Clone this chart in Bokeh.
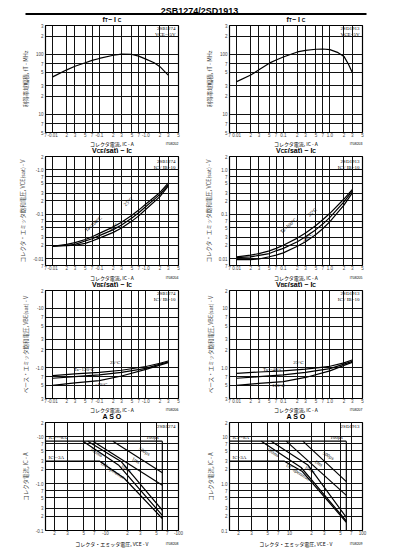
from bokeh.plotting import figure
from bokeh.models import Range1d, FixedTicker, Label, BoxAnnotation
from bokeh.layouts import column, row
from bokeh.embed import file_html
from bokeh.resources import INLINE

# ---------------- data ----------------
# fT - IC
ft_ic_b = [0.01, 0.02, 0.03, 0.05, 0.07, 0.1, 0.2, 0.3, 0.5, 0.7, 1.0, 1.5, 2.0, 3.0]
ft_b = [42, 55, 63, 72, 79, 85, 96, 100, 99, 93, 83, 72, 62, 45]
ft_ic_d = [0.01, 0.02, 0.03, 0.05, 0.07, 0.1, 0.2, 0.3, 0.5, 0.7, 1.0, 1.5, 2.0, 2.5, 3.0]
ft_d = [35, 45, 55, 71, 80, 90, 109, 116, 121, 122, 119, 106, 92, 68, 50]

# VCE(sat) - IC
vce_ic = [0.01, 0.02, 0.03, 0.05, 0.07, 0.1, 0.2, 0.3, 0.5, 0.7, 1.0, 2.0, 3.0]
vce_b_100 = [0.019, 0.021, 0.023, 0.027, 0.031, 0.037, 0.052, 0.066, 0.095, 0.124, 0.17, 0.31, 0.50]
vce_b_25 = [0.019, 0.020, 0.021, 0.025, 0.028, 0.033, 0.045, 0.057, 0.082, 0.108, 0.15, 0.28, 0.46]
vce_b_m40 = [0.019, 0.0195, 0.020, 0.022, 0.025, 0.029, 0.039, 0.049, 0.070, 0.092, 0.13, 0.25, 0.43]
vce_d_100 = [0.011, 0.012, 0.013, 0.015, 0.017, 0.020, 0.029, 0.038, 0.056, 0.075, 0.105, 0.22, 0.36]
vce_d_25 = [0.0105, 0.011, 0.0118, 0.013, 0.015, 0.017, 0.024, 0.031, 0.045, 0.060, 0.085, 0.19, 0.33]
vce_d_m40 = [0.0095, 0.0095, 0.0098, 0.011, 0.012, 0.0135, 0.019, 0.024, 0.035, 0.047, 0.068, 0.16, 0.30]

# VBE(sat) - IC
vbe_ic = [0.01, 0.03, 0.1, 0.3, 1.0, 2.0, 3.0]
vbe_b_top = [0.73, 0.78, 0.83, 0.90, 1.04, 1.18, 1.29]
vbe_b_mid = [0.66, 0.70, 0.75, 0.83, 0.97, 1.14, 1.24]
vbe_b_bot = [0.50, 0.55, 0.60, 0.72, 0.93, 1.10, 1.21]
vbe_d_top = [0.80, 0.84, 0.88, 0.94, 1.05, 1.20, 1.34]
vbe_d_mid = [0.66, 0.70, 0.75, 0.83, 0.96, 1.14, 1.27]
vbe_d_bot = [0.50, 0.54, 0.58, 0.68, 0.88, 1.09, 1.22]

# ASO (VCE in V, IC in A)
aso_vmin = 1.5
aso_imin = 0.1
aso_icp = 8
aso_ic = 3
aso_vceo = 60
aso_b_500us_v = [12.6, 60]; aso_b_500us_i = [8, 1.7]
aso_b_1ms_v = [6.7, 60]; aso_b_1ms_i = [8, 0.92]
aso_b_10ms_v = [5.7, 16.5, 60]; aso_b_10ms_i = [8, 2.9, 0.27]
aso_b_100ms_v = [4.9, 15.0, 60]; aso_b_100ms_i = [8, 2.5, 0.21]
aso_b_dc_v = [1.5, 8.3, 18.0, 60]; aso_b_dc_i = [3, 3, 1.3, 0.18]
aso_d_500us_v = [15.2, 60]; aso_d_500us_i = [8, 1.1]
aso_d_1ms_v = [9.0, 60]; aso_d_1ms_i = [8, 0.56]
aso_d_10ms_v = [5.6, 17.8, 60]; aso_d_10ms_i = [8, 2.5, 0.19]
aso_d_100ms_v = [4.1, 14.4, 60]; aso_d_100ms_i = [8, 2.2, 0.16]
aso_d_dc_v = [1.5, 8.5, 15.0, 60]; aso_d_dc_i = [3, 3, 1.8, 0.15]

# ticks
ic_ticks = [0.007, 0.01, 0.02, 0.03, 0.05, 0.07, 0.1, 0.2, 0.3, 0.5, 0.7, 1.0, 2.0, 3.0, 5.0]
ic_labels_b = ["7", "-0.01", "2", "3", "5", "7", "-0.1", "2", "3", "5", "7", "-1.0", "2", "3", "5"]
ic_labels_d = ["7", "0.01", "2", "3", "5", "7", "0.1", "2", "3", "5", "7", "1.0", "2", "3", "5"]
ft_ticks = [5, 7, 10, 20, 30, 50, 70, 100, 200, 300]
ft_labels = ["5", "7", "10", "2", "3", "5", "7", "100", "2", "3"]
vce_ticks = [0.007, 0.01, 0.02, 0.03, 0.05, 0.07, 0.1, 0.2, 0.3, 0.5, 0.7, 1.0, 2.0]
vce_labels_b = ["7", "-0.01", "2", "3", "5", "7", "-0.1", "2", "3", "5", "7", "-1.0", "2"]
vce_labels_d = ["7", "0.01", "2", "3", "5", "7", "0.1", "2", "3", "5", "7", "1.0", "2"]
vbe_ticks = [0.3, 0.5, 0.7, 1.0, 2.0, 3.0, 5.0, 7.0, 10.0, 20.0]
vbe_labels_b = ["3", "5", "7", "-1.0", "2", "3", "5", "7", "-10", "2"]
vbe_labels_d = ["3", "5", "7", "1.0", "2", "3", "5", "7", "10", "2"]
aso_x_ticks = [2, 3, 5, 7, 10, 20, 30, 50, 70, 100]
aso_x_labels_b = ["2", "3", "5", "7", "-10", "2", "3", "5", "7", "-100"]
aso_x_labels_d = ["2", "3", "5", "7", "10", "2", "3", "5", "7", "100"]
aso_y_ticks = [0.1, 0.2, 0.3, 0.5, 0.7, 1.0, 2.0, 3.0, 5.0, 7.0, 10.0, 20.0]
aso_y_labels_b = ["-0.1", "2", "3", "5", "7", "-1.0", "2", "3", "5", "7", "-10", "2"]
aso_y_labels_d = ["0.1", "2", "3", "5", "7", "1.0", "2", "3", "5", "7", "10", "2"]

# ---------------- styling helpers ----------------
JP = "Noto Sans CJK JP"
SANS = "Liberation Sans"
SERIF = "Liberation Serif"
FW = 133
BORDERS = ((45, 22), (29, 36))   # (left, right) borders of the two columns
PAGE_W = 398
COL_CX = (111.5, 295.5)          # frame centres in page coordinates
COL_R = (178, 362)               # frame right edges in page coordinates
LW = 1.2

BOLD_W = {" ": 278, "(": 333, ")": 333, "−": 584, "A": 722, "B": 722, "C": 722, "E": 667,
          "I": 278, "O": 778, "S": 667, "T": 611, "V": 667, "a": 556, "f": 333, "s": 556, "t": 333}


def tw(s, size):
    return sum(BOLD_W.get(ch, 556) for ch in s) * size / 1000.0


def panel(col, top, fh, bottom, xr, xt, xl, yr, yt, yl, ylab):
    lb, rb = BORDERS[col]
    p = figure(width=lb + FW + rb, height=top + fh + bottom, x_axis_type="log", y_axis_type="log",
               x_range=Range1d(*xr), y_range=Range1d(*yr), output_backend="svg",
               toolbar_location=None, min_border_left=lb, min_border_right=rb,
               min_border_top=top, min_border_bottom=bottom)
    for ax, ticks, labels in ((p.xaxis[0], xt, xl), (p.yaxis[0], yt, yl)):
        ax.ticker = FixedTicker(ticks=ticks)
        ax.major_label_overrides = dict(zip(ticks, labels))
        ax.major_label_text_font = SANS
        ax.major_label_text_font_size = "4.5px"
        ax.major_tick_in = 0
        ax.major_tick_out = 0
        ax.minor_tick_line_color = None
        ax.axis_line_color = None
    p.xaxis.major_label_standoff = 0
    p.yaxis.major_label_standoff = 2
    p.yaxis.axis_label = ylab
    p.yaxis.axis_label_text_font = JP
    p.yaxis.axis_label_text_font_size = "5.5px"
    p.yaxis.axis_label_text_font_style = "normal"
    p.yaxis.axis_label_standoff = 3
    p.xgrid.ticker = FixedTicker(ticks=xt)
    p.ygrid.ticker = FixedTicker(ticks=yt)
    p.grid.grid_line_color = "#111111"
    p.grid.grid_line_width = 1.0
    p.outline_line_color = "black"
    p.outline_line_width = 1.2
    p.background_fill_color = "white"
    p.border_fill_color = "white"
    p._fh = fh
    return p


def txt(p, x, y, s, xu="data", yu="data", size=5, align="left", base="middle", angle=0,
        font=SERIF, style="normal", xo=0, yo=0):
    p.add_layout(Label(x=x, y=y, x_units=xu, y_units=yu, text=s, text_font=font,
                       text_font_size=f"{size}px", text_align=align, text_baseline=base,
                       angle=angle, angle_units="deg", text_font_style=style,
                       x_offset=xo, y_offset=yo, text_color="black"))


def strip(h):
    s = figure(width=PAGE_W, height=h, x_range=Range1d(0, PAGE_W), y_range=Range1d(0, h),
               output_backend="svg", toolbar_location=None, min_border=0,
               x_axis_location=None, y_axis_location=None)
    s.grid.visible = False
    s.outline_line_color = None
    s.background_fill_color = "white"
    s.border_fill_color = "white"
    return s


def title(s, cx, y, segs, base=7.0, sub=5.0):
    total = sum(tw(t, sub if b else base) for t, b in segs)
    x = cx - total / 2
    for t, b in segs:
        sz = sub if b else base
        txt(s, x, y - (0.8 if b else 0), t, xu="screen", yu="screen", size=sz,
            base="alphabetic", font=SANS, style="bold")
        x += tw(t, sz)


def xlabel(s, col, y, text, code):
    txt(s, COL_CX[col], y, text, xu="screen", yu="screen", size=5, align="center", font=JP)
    txt(s, COL_R[col], y - 0.5, code, xu="screen", yu="screen", size=3.5, align="right", font=SANS)


def tag(p, a, b, yo=4, gap=6):
    txt(p, FW - 3, p._fh - yo, a, xu="screen", yu="screen", size=5, align="right")
    txt(p, FW - 3, p._fh - yo - gap, b, xu="screen", yu="screen", size=5, align="right")


T_FT = [("f", 0), ("T", 1), (" − I", 0), ("C", 1)]
T_VCE = [("V", 0), ("CE", 1), ("(sat) − I", 0), ("C", 1)]
T_VBE = [("V", 0), ("BE", 1), ("(sat) − I", 0), ("C", 1)]
T_ASO = [("A S O", 0)]
XL_IC = "コレクタ電流, IC - A"
XL_VCE = "コレクタ・エミッタ電圧, VCE - V"

# ---------------- strip 0 : header + row-1 titles (page y 0..22) ----------------
s0 = strip(22)
txt(s0, 199, 11.5, "2SB1274/2SD1913", xu="screen", yu="screen", size=9, align="center",
    base="alphabetic", font=SANS, style="bold")
s0.add_layout(BoxAnnotation(left=25, right=366, bottom=7.5, top=9.5, left_units="screen",
                            right_units="screen", bottom_units="screen", top_units="screen",
                            fill_color="black", fill_alpha=1, line_color=None))
for c in (0, 1):
    title(s0, COL_CX[c], 3.3, T_FT)

# ---------------- row 1 : fT - IC (frame y 25..133) ----------------
ylab_ft = "利得帯域幅積, fT - MHz"
r1 = []
for col, (ic, ft, lab, dev, vce) in enumerate((
        (ft_ic_b, ft_b, ic_labels_b, "2SB1274", "VCE=-5V"),
        (ft_ic_d, ft_d, ic_labels_d, "2SD1913", "VCE=5V"))):
    p = panel(col, 3, 108, 6, (0.007, 5), ic_ticks, lab, (5, 300), ft_ticks, ft_labels, ylab_ft)
    p.line(ic, ft, line_color="black", line_width=LW)
    tag(p, dev, vce)
    r1.append(p)

s1 = strip(14)
for c, code in ((0, "IT08202"), (1, "IT08203")):
    xlabel(s1, c, 10, XL_IC, code)
    title(s1, COL_CX[c], 3.1, T_VCE)

# ---------------- row 2 : VCE(sat) - IC (frame y 156..266) ----------------
ylab_vce = "コレクタ・エミッタ飽和電圧, VCE(sat) - V"
r2 = []
for col, (curves, lab, dev, lpos) in enumerate((
        ((vce_b_100, vce_b_25, vce_b_m40), vce_labels_b, "2SB1274",
         ((0.075, 0.06), (0.42, 0.19), (0.2, 0.05))),
        ((vce_d_100, vce_d_25, vce_d_m40), vce_labels_d, "2SD1913",
         ((0.13, 0.055), (0.42, 0.11), (0.33, 0.03))))):
    p = panel(col, 3, 110, 6, (0.007, 5), ic_ticks, ic_labels_b if col == 0 else ic_labels_d,
              (0.007, 2), vce_ticks, lab, ylab_vce)
    for c in curves:
        p.line(vce_ic, c, line_color="black", line_width=LW)
    tag(p, dev, "IC / IB=10", yo=6)
    for (x, y), s in zip(lpos, ("Ta=100°C", "25°C", "-40°C")):
        txt(p, x, y, s, size=5, align="center", angle=42)
    r2.append(p)

s2 = strip(15)
for c, code in ((0, "IT08204"), (1, "IT08205")):
    xlabel(s2, c, 10.5, XL_IC, code)
    title(s2, COL_CX[c], 3.1, T_VBE)

# ---------------- row 3 : VBE(sat) - IC (frame y 290..399) ----------------
ylab_vbe = "ベース・エミッタ飽和電圧, VBE(sat) - V"
r3 = []
for col, (curves, lab, dev, lpos, names) in enumerate((
        ((vbe_b_top, vbe_b_mid, vbe_b_bot), vbe_labels_b, "2SB1274",
         ((0.047, 0.93), (0.22, 1.22), (0.11, 0.51)), ("Ta=120°C", "25°C", "-40°C")),
        ((vbe_d_top, vbe_d_mid, vbe_d_bot), vbe_labels_d, "2SD1913",
         ((0.06, 0.93), (0.21, 1.2), (0.078, 0.5)), ("Ta=-40°C", "25°C", "120°C")))):
    p = panel(col, 3, 109, 6, (0.007, 5), ic_ticks, ic_labels_b if col == 0 else ic_labels_d,
              (0.3, 20), vbe_ticks, lab, ylab_vbe)
    for c in curves:
        p.line(vbe_ic, c, line_color="black", line_width=LW)
    tag(p, dev, "IC / IB=10", yo=4)
    for (x, y), s in zip(lpos, names):
        txt(p, x, y, s, size=5, align="center")
    r3.append(p)

s3 = strip(14)
for c, code in ((0, "IT08206"), (1, "IT08207")):
    xlabel(s3, c, 10, XL_IC, code)
    title(s3, COL_CX[c], 2.8, T_ASO)

# ---------------- row 4 : ASO (frame y 422..531) ----------------
ylab_aso = "コレクタ電流, IC - A"
r4 = []
sets = (
    (((aso_b_500us_v, aso_b_500us_i), (aso_b_1ms_v, aso_b_1ms_i), (aso_b_10ms_v, aso_b_10ms_i),
      (aso_b_100ms_v, aso_b_100ms_i), (aso_b_dc_v, aso_b_dc_i)),
     aso_x_labels_b, aso_y_labels_b, "2SB1274", "ICP=-8A", "IC=-3A",
     ((34, 4.8), (26, 3.1), (19, 2.1), (7.5, 4.6), (12.5, 1.9))),
    (((aso_d_500us_v, aso_d_500us_i), (aso_d_1ms_v, aso_d_1ms_i), (aso_d_10ms_v, aso_d_10ms_i),
      (aso_d_100ms_v, aso_d_100ms_i), (aso_d_dc_v, aso_d_dc_i)),
     aso_x_labels_d, aso_y_labels_d, "2SD1913", "ICP=8A", "IC=3A",
     ((34, 3.9), (25, 2.7), (19, 2.0), (5.9, 4.6), (13, 1.75))),
)
for col, (lines, xl, yl, dev, icp_s, ic_s, lpos) in enumerate(sets):
    p = panel(col, 3, 109, 6, (aso_vmin, 100), aso_x_ticks, xl, (aso_imin, 20), aso_y_ticks, yl, ylab_aso)
    p.line([aso_vmin, aso_vceo], [aso_icp, aso_icp], line_color="black", line_width=LW)
    p.line([aso_vceo, aso_vceo], [aso_icp, aso_imin], line_color="black", line_width=LW)
    for v, i in lines:
        p.line(v, i, line_color="black", line_width=LW)
    txt(p, FW - 3, p._fh - 5, dev, xu="screen", yu="screen", size=5, align="right")
    txt(p, 44, aso_icp, "100µs", size=5, align="center", base="bottom", yo=1.5)
    txt(p, 3, aso_icp, icp_s, xu="screen", size=5, base="bottom", yo=1)
    txt(p, 3, aso_ic, ic_s, xu="screen", size=5, base="bottom", yo=1)
    for (x, y), s, a in zip(lpos, ("500µs", "1ms", "10ms", "100ms", "DC operation"),
                            (-31, -31, -33, -33, -33)):
        txt(p, x, y, s, size=5, align="center", angle=a)
    r4.append(p)

s4 = strip(11)
for c, code in ((0, "IT08208"), (1, "IT08209")):
    xlabel(s4, c, 6, XL_VCE, code)

layout = column(s0, row(*r1), s1, row(*r2), s2, row(*r3), s3, row(*r4), s4)
open("out.html", "w").write(file_html(layout, INLINE))
